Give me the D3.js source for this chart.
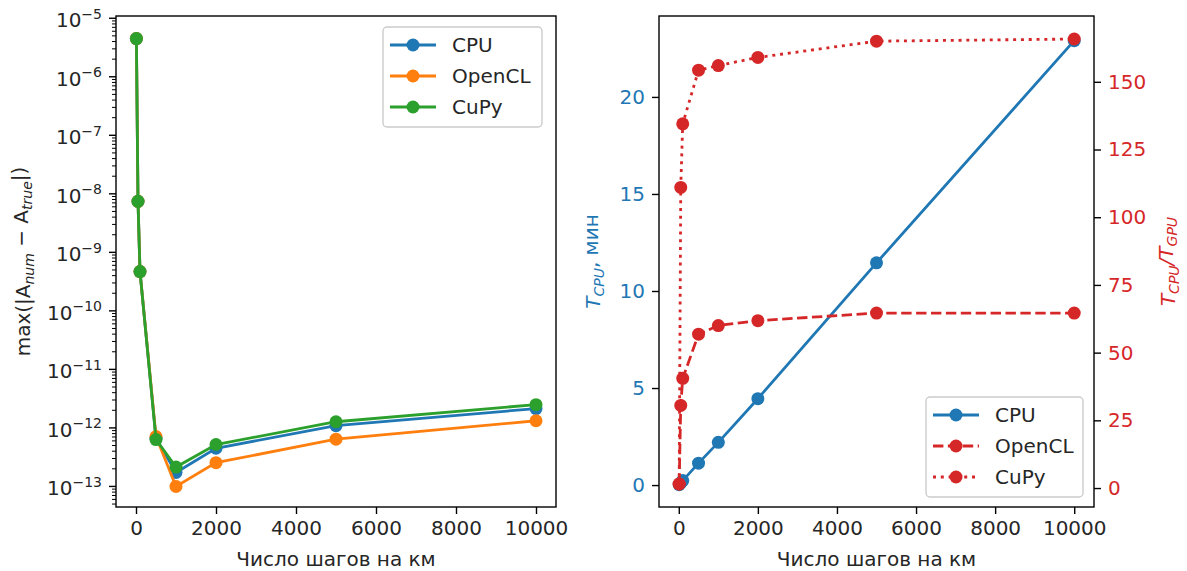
<!DOCTYPE html>
<html>
<head>
<meta charset="utf-8">
<script src="https://cdn.jsdelivr.net/npm/d3@7"></script>
<style>
body { margin: 0; background: #ffffff; }
svg { font-family: "DejaVu Sans", sans-serif; }
</style>
</head>
<body>
<svg id="svg1" width="1187" height="571"></svg>
<script>
// data
const steps = [10, 50, 100, 500, 1000, 2000, 5000, 10000];
const errCPU = [4.4e-6, 7.3e-9, 4.6e-10, 6.5e-13, 1.7e-13, 4.4e-13, 1.07e-12, 2.1e-12];
const errOpenCL = [4.4e-6, 7.3e-9, 4.6e-10, 7.0e-13, 9.8e-14, 2.5e-13, 6.3e-13, 1.3e-12];
const errCuPy = [4.4e-6, 7.3e-9, 4.6e-10, 6.2e-13, 2.1e-13, 5.1e-13, 1.25e-12, 2.45e-12];
const timeCPU = [0.02, 0.11, 0.23, 1.13, 2.2, 4.45, 11.45, 22.9];
const ratioOpenCL = [1.5, 30.5, 40.5, 56.8, 60, 61.8, 64.6, 64.6];
const ratioCuPy = [1.5, 111, 134.5, 154.3, 156, 159, 165, 165.8];

const seriesNames = ["CPU", "OpenCL", "CuPy"];
const xTicks = [0, 2000, 4000, 6000, 8000, 10000];
const logExponents = [-13, -12, -11, -10, -9, -8, -7, -6, -5];
const cpuTicks = [0, 5, 10, 15, 20];
const ratioTicks = [0, 25, 50, 75, 100, 125, 150];

// chart globals
const fontSize = 20;
const textColor = "#262626";
const blue = "#1f77b4", orange = "#ff7f0e", green = "#2ca02c", red = "#d62728";
const lw = 2.8;
const markerR = 6.5;
const tickLen = 7;
const tickPad = 7;

const left = {x0: 116, x1: 556, y0: 16, y1: 507};
const right = {x0: 659, x1: 1094, y0: 16, y1: 507};

const svg = d3.select("#svg1");

// ---------- left panel: error, log scale ----------
const xLeft = d3.scaleLinear().domain([-500, 10500]).range([left.x0, left.x1]);
const yLog = d3.scaleLog().domain([Math.pow(10, -13.36), Math.pow(10, -4.97)]).range([left.y1, left.y0]);

function styleAxis(g, color) {
    g.select(".domain").remove();
    g.selectAll(".tick line").attr("stroke", "#000").attr("stroke-width", 1.4);
    g.selectAll(".tick text").attr("fill", color || textColor).attr("font-size", fontSize + "px")
        .attr("font-family", "DejaVu Sans");
}

const gLeftX = svg.append("g")
    .attr("transform", "translate(0," + left.y1 + ")")
    .call(d3.axisBottom(xLeft).tickValues(xTicks).tickFormat(d3.format("d")).tickSize(tickLen).tickPadding(tickPad));
styleAxis(gLeftX);

// minor log ticks
const minorTicks = [];
for (let e = -14; e <= -5; e++) {
    for (let k = 2; k <= 9; k++) {
        const v = k * Math.pow(10, e);
        if (v > yLog.domain()[0] && v < yLog.domain()[1]) minorTicks.push(v);
    }
}
const gLeftMinor = svg.append("g")
    .attr("transform", "translate(" + left.x0 + ",0)")
    .call(d3.axisLeft(yLog).tickValues(minorTicks).tickFormat(() => "").tickSize(4));
gLeftMinor.select(".domain").remove();
gLeftMinor.selectAll(".tick line").attr("stroke", "#000").attr("stroke-width", 1);

const gLeftY = svg.append("g")
    .attr("transform", "translate(" + left.x0 + ",0)")
    .call(d3.axisLeft(yLog).tickValues(logExponents.map(e => Math.pow(10, e))).tickSize(tickLen).tickPadding(tickPad));
styleAxis(gLeftY);
gLeftY.selectAll(".tick text").each(function(d) {
    const t = d3.select(this).text("").attr("dy", "0.45em");
    const ex = Math.round(Math.log10(d));
    t.append("tspan").text("10");
    t.append("tspan").attr("dy", "-0.62em").attr("font-size", "14px").text("\u2212" + Math.abs(ex));
});

const lineLeft = d3.line().x((d, i) => xLeft(steps[i])).y(d => yLog(d));

[[errCPU, blue], [errOpenCL, orange], [errCuPy, green]].forEach(([vals, color]) => {
    svg.append("path")
        .datum(vals)
        .attr("d", lineLeft)
        .attr("fill", "none")
        .attr("stroke", color)
        .attr("stroke-width", lw);
    svg.append("g").selectAll("circle")
        .data(vals)
        .enter()
        .append("circle")
        .attr("cx", (d, i) => xLeft(steps[i]))
        .attr("cy", d => yLog(d))
        .attr("r", markerR)
        .attr("fill", color);
});

svg.append("rect")
    .attr("x", left.x0).attr("y", left.y0)
    .attr("width", left.x1 - left.x0).attr("height", left.y1 - left.y0)
    .attr("fill", "none").attr("stroke", "#000").attr("stroke-width", 1.4);

svg.append("text")
    .attr("x", (left.x0 + left.x1) / 2)
    .attr("y", 566)
    .attr("text-anchor", "middle")
    .attr("font-size", fontSize + "px")
    .attr("fill", textColor)
    .text("Число шагов на км");

const leftLabel = svg.append("text")
    .attr("transform", "translate(30," + ((left.y0 + left.y1) / 2) + ") rotate(-90)")
    .attr("text-anchor", "middle")
    .attr("font-size", fontSize + "px")
    .attr("fill", textColor);
leftLabel.append("tspan").text("max(|A");
leftLabel.append("tspan").attr("dy", "0.3em").attr("font-size", "14px").attr("font-style", "italic").text("num");
leftLabel.append("tspan").attr("dy", "-0.3em").attr("font-size", fontSize + "px").text(" \u2212 A");
leftLabel.append("tspan").attr("dy", "0.3em").attr("font-size", "14px").attr("font-style", "italic").text("true");
leftLabel.append("tspan").attr("dy", "-0.3em").attr("font-size", fontSize + "px").text("|)");

// ---------- right panel: time + speedup ----------
const xRight = d3.scaleLinear().domain([-500, 10500]).range([right.x0, right.x1]);
const yCPU = d3.scaleLinear().domain([-1.13, 24.17]).range([right.y1, right.y0]);
const yRatio = d3.scaleLinear().domain([-7.0, 174.3]).range([right.y1, right.y0]);

const gRightX = svg.append("g")
    .attr("transform", "translate(0," + right.y1 + ")")
    .call(d3.axisBottom(xRight).tickValues(xTicks).tickFormat(d3.format("d")).tickSize(tickLen).tickPadding(tickPad));
styleAxis(gRightX);

const gCPUY = svg.append("g")
    .attr("transform", "translate(" + right.x0 + ",0)")
    .call(d3.axisLeft(yCPU).tickValues(cpuTicks).tickSize(tickLen).tickPadding(tickPad));
styleAxis(gCPUY, blue);

const gRatioY = svg.append("g")
    .attr("transform", "translate(" + right.x1 + ",0)")
    .call(d3.axisRight(yRatio).tickValues(ratioTicks).tickSize(tickLen).tickPadding(tickPad));
styleAxis(gRatioY, red);

const lineCPU = d3.line().x((d, i) => xRight(steps[i])).y(d => yCPU(d));
const lineRatio = d3.line().x((d, i) => xRight(steps[i])).y(d => yRatio(d));

function drawSeries(vals, lineGen, yScale, color, dash) {
    svg.append("path")
        .datum(vals)
        .attr("d", lineGen)
        .attr("fill", "none")
        .attr("stroke", color)
        .attr("stroke-width", lw)
        .attr("stroke-dasharray", dash);
    svg.append("g").selectAll("circle")
        .data(vals)
        .enter()
        .append("circle")
        .attr("cx", (d, i) => xRight(steps[i]))
        .attr("cy", d => yScale(d))
        .attr("r", markerR)
        .attr("fill", color);
}

const dashStyles = [null, "10.4,4.5", "3,4.8"];
drawSeries(timeCPU, lineCPU, yCPU, blue, dashStyles[0]);
drawSeries(ratioOpenCL, lineRatio, yRatio, red, dashStyles[1]);
drawSeries(ratioCuPy, lineRatio, yRatio, red, dashStyles[2]);

svg.append("rect")
    .attr("x", right.x0).attr("y", right.y0)
    .attr("width", right.x1 - right.x0).attr("height", right.y1 - right.y0)
    .attr("fill", "none").attr("stroke", "#000").attr("stroke-width", 1.4);

svg.append("text")
    .attr("x", (right.x0 + right.x1) / 2)
    .attr("y", 566)
    .attr("text-anchor", "middle")
    .attr("font-size", fontSize + "px")
    .attr("fill", textColor)
    .text("Число шагов на км");

const cpuLabel = svg.append("text")
    .attr("transform", "translate(600," + ((right.y0 + right.y1) / 2) + ") rotate(-90)")
    .attr("text-anchor", "middle")
    .attr("font-size", fontSize + "px")
    .attr("fill", blue);
cpuLabel.append("tspan").attr("font-style", "italic").text("T");
cpuLabel.append("tspan").attr("dy", "0.3em").attr("font-size", "14px").attr("font-style", "italic").text("CPU");
cpuLabel.append("tspan").attr("dy", "-0.3em").attr("font-size", fontSize + "px").text(", мин");

const ratioLabel = svg.append("text")
    .attr("transform", "translate(1175," + ((right.y0 + right.y1) / 2) + ") rotate(-90)")
    .attr("text-anchor", "middle")
    .attr("font-size", fontSize + "px")
    .attr("fill", red);
ratioLabel.append("tspan").attr("font-style", "italic").text("T");
ratioLabel.append("tspan").attr("dy", "0.3em").attr("font-size", "14px").attr("font-style", "italic").text("CPU");
ratioLabel.append("tspan").attr("dy", "-0.3em").attr("font-size", fontSize + "px").attr("font-style", "italic").text("/T");
ratioLabel.append("tspan").attr("dy", "0.3em").attr("font-size", "14px").attr("font-style", "italic").text("GPU");

// ---------- legends ----------
function drawLegend(x, y, w, h, rows, colors, dashes) {
    const g = svg.append("g").attr("transform", "translate(" + x + "," + y + ")");
    g.append("rect")
        .attr("width", w).attr("height", h)
        .attr("rx", 4)
        .attr("fill", "#ffffff").attr("fill-opacity", 0.8)
        .attr("stroke", "#cccccc").attr("stroke-width", 1.4);
    rows.forEach((name, i) => {
        const cy = 18 + i * 31;
        g.append("line")
            .attr("x1", 7).attr("x2", 53).attr("y1", cy).attr("y2", cy)
            .attr("stroke", colors[i]).attr("stroke-width", lw)
            .attr("stroke-dasharray", dashes[i]);
        g.append("circle").attr("cx", 30).attr("cy", cy).attr("r", markerR).attr("fill", colors[i]);
        g.append("text")
            .attr("x", 69).attr("y", cy).attr("dy", "0.36em")
            .attr("font-size", fontSize + "px")
            .attr("fill", textColor)
            .text(name);
    });
}

drawLegend(383, 27, 159, 100, seriesNames, [blue, orange, green], [null, null, null]);
drawLegend(926, 397, 157, 100, seriesNames, [blue, red, red], dashStyles);
</script>
</body>
</html>
